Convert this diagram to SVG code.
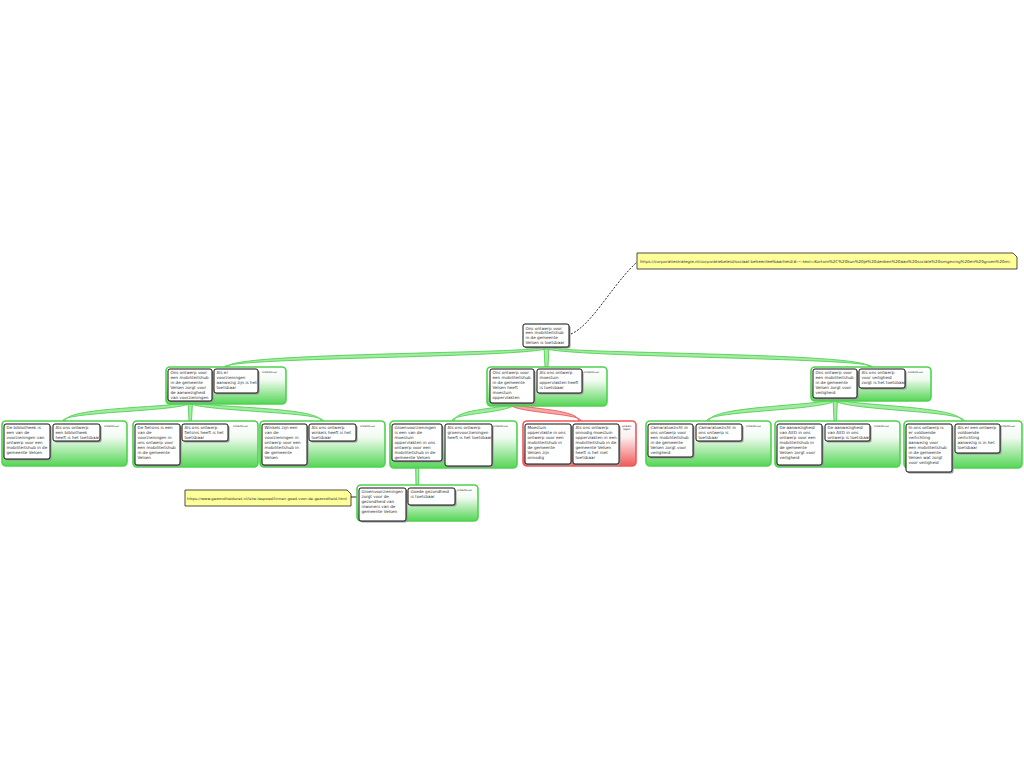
<svg xmlns="http://www.w3.org/2000/svg" width="1024" height="768" viewBox="0 0 1024 768">
<defs>
<linearGradient id="gG" x1="0" y1="0" x2="0" y2="1"><stop offset="0" stop-color="#ffffff"/><stop offset="0.35" stop-color="#f2fbf2"/><stop offset="1" stop-color="#55d655"/></linearGradient>
<linearGradient id="gR" x1="0" y1="0" x2="0" y2="1"><stop offset="0" stop-color="#ffffff"/><stop offset="0.35" stop-color="#fdf0f0"/><stop offset="1" stop-color="#f05a5a"/></linearGradient>
</defs>
<style>
text{font-family:"DejaVu Sans","Liberation Sans",sans-serif;font-size:4.1px;fill:#333}
.lbl{font-size:2.5px;fill:#333}
.pg{fill:url(#gG);stroke:#4fd24f;stroke-width:1.6}
.pr{fill:url(#gR);stroke:#f05858;stroke-width:1.6}
.nb{fill:#fff;stroke:#111;stroke-width:1}
.sh{fill:#9a9a9a}
.note{fill:#ffff99;stroke:#222;stroke-width:0.8}
.rg{fill:#a4eaa4;stroke:#4fd24f;stroke-width:0.9;stroke-linejoin:round}
.rr{fill:#f6a8a8;stroke:#f05858;stroke-width:0.9;stroke-linejoin:round}
.dash{fill:none;stroke:#111;stroke-width:0.9;stroke-dasharray:2,1.5}
</style>

<g id="connectors">
<path class="rg" d="M542,347 C542,354 227.5,352 227.5,367 L224.5,367 C224.5,357 550,358 550,347 Z"/>
<path class="rg" d="M544,347 L545,367 L548,367 L549,347 Z"/>
<path class="rg" d="M550,347 C550,354 869.5,352 869.5,367 L872.5,367 C872.5,357 542,358 542,347 Z"/>
<path class="rg" d="M187,401 C187,408 65.3,406 65.3,421 L62.7,421 C62.7,411 193,412 193,401 Z"/>
<path class="rg" d="M188,401 L189,421 L191.5,421 L192.5,401 Z"/>
<path class="rg" d="M193,401 C193,408 320.7,406 320.7,421 L323.3,421 C323.3,411 187,412 187,401 Z"/>
<path class="rg" d="M509,403 C509,409 454.3,408 454.3,421 L451.7,421 C451.7,413 515,413 515,403 Z"/>
<path class="rr" d="M515,403 C515,409 578.7,408 578.7,421 L581.3,421 C581.3,413 509,413 509,403 Z"/>
<path class="rg" d="M832,398 C832,406 709.3,405 709.3,421 L706.7,421 C706.7,410 838,411 838,398 Z"/>
<path class="rg" d="M833,398 L834,421 L836.5,421 L837.5,398 Z"/>
<path class="rg" d="M838,398 C838,406 961.7,405 961.7,421 L964.3,421 C964.3,410 832,411 832,398 Z"/>
<path class="rg" d="M415.5,461 L416,485 L418.5,485 L419,461 Z"/>
<path class="dash" d="M571,334 C592,325 612,285 637,262"/>
<path fill="none" stroke="#111" stroke-width="0.9" d="M351,497 L359,497"/>
</g>

<g id="note-url1">
<path class="note" d="M637,253 H1013 L1017,257 V269 H637 Z"/>
<text x="640" y="263" style="font-size:3.9px" textLength="371" lengthAdjust="spacingAndGlyphs">https://corporatiestrategie.nl/corporatiebeleid/sociaal-beheer/leefbaarheid/#:~:text=Kortom%2C%20kun%20je%20denken%20aan%20sociale%20omgeving%20en%20groen%20mi.</text>
</g>

<g id="root">
<rect class="sh" x="524.5" y="325.5" width="46" height="23" rx="2"/>
<rect class="nb" x="523" y="324" width="46" height="23" rx="2"/>
<text y="329.5"><tspan x="525.5">Ons ontwerp voor</tspan><tspan x="525.5" dy="4.95">een mobiliteitshub</tspan><tspan x="525.5" dy="4.95">in de gemeente</tspan><tspan x="525.5" dy="4.95">Velsen is toetsbaar</tspan></text>
</g>

<g id="l1-left">
<rect class="pg" x="166" y="367" width="120" height="37" rx="4"/>
<text class="lbl" x="262" y="373">onderbouwt</text>
<rect class="sh" x="169.5" y="370.5" width="44" height="32" rx="2"/>
<rect class="nb" x="168" y="369" width="44" height="32" rx="2"/>
<text y="374"><tspan x="170.5">Ons ontwerp voor</tspan><tspan x="170.5" dy="4.95">een mobiliteitshub</tspan><tspan x="170.5" dy="4.95">in de gemeente</tspan><tspan x="170.5" dy="4.95">Velsen zorgt voor</tspan><tspan x="170.5" dy="4.95">de aanwezigheid</tspan><tspan x="170.5" dy="4.95">van voorzieningen</tspan></text>
<rect class="sh" x="215.5" y="370.5" width="44" height="24" rx="2"/>
<rect class="nb" x="214" y="369" width="44" height="24" rx="2"/>
<text y="374"><tspan x="216.5">Als er</tspan><tspan x="216.5" dy="4.95">voorzieningen</tspan><tspan x="216.5" dy="4.95">aanwezig zijn is het</tspan><tspan x="216.5" dy="4.95">toetsbaar</tspan></text>
</g>

<g id="l1-mid">
<rect class="pg" x="487" y="367" width="120" height="39" rx="4"/>
<text class="lbl" x="584" y="373">onderbouwt</text>
<rect class="sh" x="491.5" y="370.5" width="44" height="34" rx="2"/>
<rect class="nb" x="490" y="369" width="44" height="34" rx="2"/>
<text y="374"><tspan x="492.5">Ons ontwerp voor</tspan><tspan x="492.5" dy="4.95">een mobiliteitshub</tspan><tspan x="492.5" dy="4.95">in de gemeente</tspan><tspan x="492.5" dy="4.95">Velsen heeft</tspan><tspan x="492.5" dy="4.95">moestuin</tspan><tspan x="492.5" dy="4.95">oppervlakten</tspan></text>
<rect class="sh" x="538.5" y="370.5" width="45" height="24" rx="2"/>
<rect class="nb" x="537" y="369" width="45" height="24" rx="2"/>
<text y="374"><tspan x="539.5">Als ons ontwerp</tspan><tspan x="539.5" dy="4.95">moestuin</tspan><tspan x="539.5" dy="4.95">oppervlakten heeft</tspan><tspan x="539.5" dy="4.95">is toetsbaar</tspan></text>
</g>

<g id="l1-right">
<rect class="pg" x="811" y="367" width="120" height="34" rx="4"/>
<text class="lbl" x="908" y="373">onderbouwt</text>
<rect class="sh" x="814.5" y="370.5" width="44" height="29" rx="2"/>
<rect class="nb" x="813" y="369" width="44" height="29" rx="2"/>
<text y="374"><tspan x="815.5">Ons ontwerp voor</tspan><tspan x="815.5" dy="4.95">een mobiliteitshub</tspan><tspan x="815.5" dy="4.95">in de gemeente</tspan><tspan x="815.5" dy="4.95">Velsen zorgt voor</tspan><tspan x="815.5" dy="4.95">veiligheid</tspan></text>
<rect class="sh" x="860.5" y="370.5" width="46" height="19" rx="2"/>
<rect class="nb" x="859" y="369" width="46" height="19" rx="2"/>
<text y="374"><tspan x="861.5">Als ons ontwerp</tspan><tspan x="861.5" dy="4.95">voor veiligheid</tspan><tspan x="861.5" dy="4.95">zorgt is het toetsbaar</tspan></text>
</g>

<g id="l2-a">
<rect class="pg" x="2" y="421" width="125" height="45" rx="4"/>
<text class="lbl" x="104" y="427">onderbouwt</text>
<rect class="sh" x="5.5" y="425.5" width="46" height="35" rx="2"/>
<rect class="nb" x="4" y="424" width="46" height="35" rx="2"/>
<text y="429"><tspan x="6.5">De bibliotheek is</tspan><tspan x="6.5" dy="4.95">een van de</tspan><tspan x="6.5" dy="4.95">voorzieningen van</tspan><tspan x="6.5" dy="4.95">ontwerp voor een</tspan><tspan x="6.5" dy="4.95">mobiliteitshub in de</tspan><tspan x="6.5" dy="4.95">gemeente Velsen</tspan></text>
<rect class="sh" x="54.5" y="425.5" width="47" height="17" rx="2"/>
<rect class="nb" x="53" y="424" width="47" height="17" rx="2"/>
<text y="429"><tspan x="55.5">Als ons ontwerp</tspan><tspan x="55.5" dy="4.95">een bibliotheek</tspan><tspan x="55.5" dy="4.95">heeft is het toetsbaar</tspan></text>
</g>

<g id="l2-b">
<rect class="pg" x="133" y="421" width="125" height="46" rx="4"/>
<text class="lbl" x="233" y="427">onderbouwt</text>
<rect class="sh" x="136.5" y="425.5" width="45" height="41" rx="2"/>
<rect class="nb" x="135" y="424" width="45" height="41" rx="2"/>
<text y="429"><tspan x="137.5">De fietsnis is een</tspan><tspan x="137.5" dy="4.95">van de</tspan><tspan x="137.5" dy="4.95">voorzieningen in</tspan><tspan x="137.5" dy="4.95">ons ontwerp voor</tspan><tspan x="137.5" dy="4.95">een mobiliteitshub</tspan><tspan x="137.5" dy="4.95">in de gemeente</tspan><tspan x="137.5" dy="4.95">Velsen</tspan></text>
<rect class="sh" x="183.5" y="425.5" width="46" height="17" rx="2"/>
<rect class="nb" x="182" y="424" width="46" height="17" rx="2"/>
<text y="429"><tspan x="184.5">Als ons ontwerp</tspan><tspan x="184.5" dy="4.95">fietsnis heeft is het</tspan><tspan x="184.5" dy="4.95">toetsbaar</tspan></text>
</g>

<g id="l2-c">
<rect class="pg" x="260" y="421" width="125" height="46" rx="4"/>
<text class="lbl" x="360" y="427">onderbouwt</text>
<rect class="sh" x="263.5" y="425.5" width="45" height="41" rx="2"/>
<rect class="nb" x="262" y="424" width="45" height="41" rx="2"/>
<text y="429"><tspan x="264.5">Winkels zijn een</tspan><tspan x="264.5" dy="4.95">van de</tspan><tspan x="264.5" dy="4.95">voorzieningen in</tspan><tspan x="264.5" dy="4.95">ontwerp voor een</tspan><tspan x="264.5" dy="4.95">mobiliteitshub in</tspan><tspan x="264.5" dy="4.95">de gemeente</tspan><tspan x="264.5" dy="4.95">Velsen</tspan></text>
<rect class="sh" x="310.5" y="425.5" width="47" height="17" rx="2"/>
<rect class="nb" x="309" y="424" width="47" height="17" rx="2"/>
<text y="429"><tspan x="311.5">Als ons ontwerp</tspan><tspan x="311.5" dy="4.95">winkels heeft is het</tspan><tspan x="311.5" dy="4.95">toetsbaar</tspan></text>
</g>

<g id="l2-d">
<rect class="pg" x="390" y="421" width="127" height="47" rx="4"/>
<text class="lbl" x="493" y="427">onderbouwt</text>
<rect class="sh" x="393.5" y="425.5" width="50" height="37" rx="2"/>
<rect class="nb" x="392" y="424" width="50" height="37" rx="2"/>
<text y="429"><tspan x="394.5">Groenvoorzieningen</tspan><tspan x="394.5" dy="4.95">is een van de</tspan><tspan x="394.5" dy="4.95">moestuin</tspan><tspan x="394.5" dy="4.95">oppervlakten in ons</tspan><tspan x="394.5" dy="4.95">ontwerp voor een</tspan><tspan x="394.5" dy="4.95">mobiliteitshub in de</tspan><tspan x="394.5" dy="4.95">gemeente Velsen</tspan></text>
<rect class="sh" x="446.5" y="425.5" width="47" height="42" rx="2"/>
<rect class="nb" x="445" y="424" width="47" height="42" rx="2"/>
<text y="429"><tspan x="447.5">Als ons ontwerp</tspan><tspan x="447.5" dy="4.95">groenvoorzieningen</tspan><tspan x="447.5" dy="4.95">heeft is het toetsbaar</tspan></text>
</g>

<g id="l2-e">
<rect class="pr" x="523" y="421" width="113" height="45" rx="4"/>
<text class="lbl" x="622" y="427"><tspan x="622">spreekt</tspan><tspan x="623" dy="3">tegen</tspan></text>
<rect class="sh" x="526.5" y="425.5" width="46" height="40" rx="2"/>
<rect class="nb" x="525" y="424" width="46" height="40" rx="2"/>
<text y="429"><tspan x="527.5">Moestuin</tspan><tspan x="527.5" dy="4.95">oppervlakte in ons</tspan><tspan x="527.5" dy="4.95">ontwerp voor een</tspan><tspan x="527.5" dy="4.95">mobiliteitshub in</tspan><tspan x="527.5" dy="4.95">de gemeente</tspan><tspan x="527.5" dy="4.95">Velsen zijn</tspan><tspan x="527.5" dy="4.95">onnodig</tspan></text>
<rect class="sh" x="574.5" y="425.5" width="46" height="40" rx="2"/>
<rect class="nb" x="573" y="424" width="46" height="40" rx="2"/>
<text y="429"><tspan x="575.5">Als ons ontwerp</tspan><tspan x="575.5" dy="4.95">onnodig moestuin</tspan><tspan x="575.5" dy="4.95">oppervlakten in een</tspan><tspan x="575.5" dy="4.95">mobiliteitshub in de</tspan><tspan x="575.5" dy="4.95">gemeente Velsen</tspan><tspan x="575.5" dy="4.95">heeft is het niet</tspan><tspan x="575.5" dy="4.95">toetsbaar</tspan></text>
</g>

<g id="l2-f">
<rect class="pg" x="646" y="421" width="125" height="45" rx="4"/>
<text class="lbl" x="746" y="427">onderbouwt</text>
<rect class="sh" x="649.5" y="425.5" width="45" height="33" rx="2"/>
<rect class="nb" x="648" y="424" width="45" height="33" rx="2"/>
<text y="429"><tspan x="650.5">Camaratoezicht in</tspan><tspan x="650.5" dy="4.95">ons ontwerp voor</tspan><tspan x="650.5" dy="4.95">een mobiliteitshub</tspan><tspan x="650.5" dy="4.95">in de gemeente</tspan><tspan x="650.5" dy="4.95">Velsen zorgt voor</tspan><tspan x="650.5" dy="4.95">veiligheid</tspan></text>
<rect class="sh" x="697.5" y="425.5" width="46" height="17" rx="2"/>
<rect class="nb" x="696" y="424" width="46" height="17" rx="2"/>
<text y="429"><tspan x="698.5">Camaratoezicht in</tspan><tspan x="698.5" dy="4.95">ons ontwerp is</tspan><tspan x="698.5" dy="4.95">toetsbaar</tspan></text>
</g>

<g id="l2-g">
<rect class="pg" x="775" y="421" width="125" height="46" rx="4"/>
<text class="lbl" x="874" y="427">onderbouwt</text>
<rect class="sh" x="778.5" y="425.5" width="45" height="41" rx="2"/>
<rect class="nb" x="777" y="424" width="45" height="41" rx="2"/>
<text y="429"><tspan x="779.5">De aanwezigheid</tspan><tspan x="779.5" dy="4.95">van AED in ons</tspan><tspan x="779.5" dy="4.95">ontwerp voor een</tspan><tspan x="779.5" dy="4.95">mobiliteitshub in</tspan><tspan x="779.5" dy="4.95">de gemeente</tspan><tspan x="779.5" dy="4.95">Velsen zorgt voor</tspan><tspan x="779.5" dy="4.95">veiligheid</tspan></text>
<rect class="sh" x="826.5" y="425.5" width="45" height="17" rx="2"/>
<rect class="nb" x="825" y="424" width="45" height="17" rx="2"/>
<text y="429"><tspan x="827.5">De aanwezigheid</tspan><tspan x="827.5" dy="4.95">van AED in ons</tspan><tspan x="827.5" dy="4.95">ontwerp is toetsbaar</tspan></text>
</g>

<g id="l2-h">
<rect class="pg" x="904" y="421" width="118" height="47" rx="4"/>
<text class="lbl" x="1000" y="427">onderbouwt</text>
<rect class="sh" x="907.5" y="425.5" width="46" height="48" rx="2"/>
<rect class="nb" x="906" y="424" width="46" height="48" rx="2"/>
<text y="429"><tspan x="908.5">In ons ontwerp is</tspan><tspan x="908.5" dy="4.95">er voldoende</tspan><tspan x="908.5" dy="4.95">verlichting</tspan><tspan x="908.5" dy="4.95">aanwezig voor</tspan><tspan x="908.5" dy="4.95">een mobiliteitshub</tspan><tspan x="908.5" dy="4.95">in de gemeente</tspan><tspan x="908.5" dy="4.95">Velsen wat zorgt</tspan><tspan x="908.5" dy="4.95">voor veiligheid</tspan></text>
<rect class="sh" x="956.5" y="425.5" width="45" height="29" rx="2"/>
<rect class="nb" x="955" y="424" width="45" height="29" rx="2"/>
<text y="429"><tspan x="957.5">Als er een ontwerp</tspan><tspan x="957.5" dy="4.95">voldoende</tspan><tspan x="957.5" dy="4.95">verlichting</tspan><tspan x="957.5" dy="4.95">aanwezig is in het</tspan><tspan x="957.5" dy="4.95">toetsbaar</tspan></text>
</g>

<g id="l3-i">
<rect class="pg" x="357" y="485" width="121" height="36" rx="4"/>
<text class="lbl" x="457" y="491">onderbouwt</text>
<rect class="sh" x="360.5" y="489.5" width="47" height="33" rx="2"/>
<rect class="nb" x="359" y="488" width="47" height="33" rx="2"/>
<text y="493"><tspan x="361.5">Groenvoorzieningen</tspan><tspan x="361.5" dy="4.95">zorgt voor de</tspan><tspan x="361.5" dy="4.95">gezondheid van</tspan><tspan x="361.5" dy="4.95">inwoners van de</tspan><tspan x="361.5" dy="4.95">gemeente Velsen</tspan></text>
<rect class="sh" x="409.5" y="489.5" width="47" height="17" rx="2"/>
<rect class="nb" x="408" y="488" width="47" height="17" rx="2"/>
<text y="493"><tspan x="410.5">Goede gezondheid</tspan><tspan x="410.5" dy="4.95">is toetsbaar</tspan></text>
</g>

<g id="note-url2">
<path class="note" d="M185,490 H347 L351,494 V506 H185 Z"/>
<text x="187" y="500" style="font-size:3.5px" textLength="160" lengthAdjust="spacingAndGlyphs">https://www.gezondheidsnet.nl/ishe-lespoed/linnen-goed-voor-de-gezondheid.html</text>
</g>
</svg>
